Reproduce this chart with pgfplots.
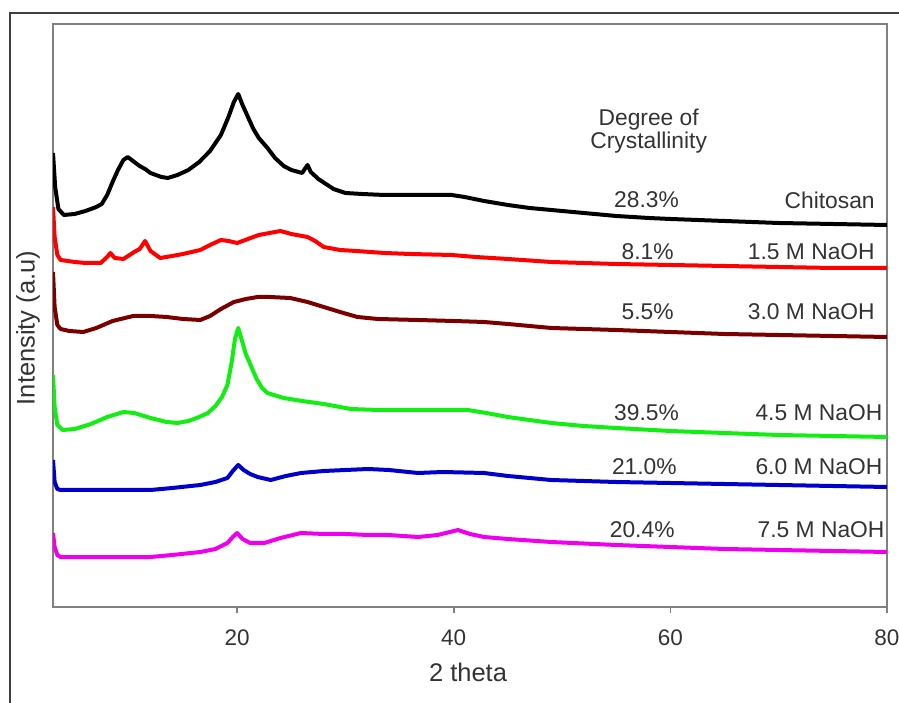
\documentclass[border=0pt]{standalone}
\usepackage{fontspec}
\setmainfont{Liberation Sans}
\usepackage{pgfplots}
\pgfplotsset{compat=1.18}
\definecolor{axgray}{HTML}{808080}
\definecolor{framegray}{HTML}{404040}
\definecolor{txt}{HTML}{333333}
\definecolor{cred}{HTML}{FF0000}
\definecolor{cdred}{HTML}{7A0000}
\definecolor{cgreen}{HTML}{11EE11}
\definecolor{cblue}{HTML}{0000CC}
\definecolor{cmag}{HTML}{EE00EE}
\begin{document}
\begin{tikzpicture}[x=1pt,y=1pt]
\useasboundingbox (0,0) rectangle (449.5,351);
\draw[framegray, line width=1pt] (5,-20) rectangle (470,344.5);
\begin{axis}[
  at={(26.5pt,47.5pt)}, anchor=south west,
  width=417pt, height=291.5pt, scale only axis,
  xmin=3, xmax=80, ymin=0, ymax=583,
  xtick={20,40,60,80}, ytick=\empty,
  xtick pos=bottom, tick align=outside, major tick length=3pt,
  axis line style={draw=axgray, line width=1pt},
  tick style={draw=axgray, line width=0.8pt},
  ticklabel style={font=\fontsize{11.25}{13}\selectfont, text=txt},
  xticklabel style={yshift=-5pt},
  /pgf/number format/assume math mode=true,
  every axis plot/.append style={line width=2pt, line join=round},
]
% Chitosan
\addplot[black] coordinates {(3,454) (3.2,420) (3.5,398) (4,392) (5,393) (6,396) (7,400) (7.5,403) (8,412) (8.5,425) (9,437) (9.5,447) (9.9,450) (10.5,445) (11,441) (11.5,438) (12,434) (13,430) (13.6,429) (14.5,432) (15.5,437) (16.5,445) (17.5,456) (18.5,472) (19.2,490) (19.7,505) (20.1,513) (20.5,502) (21,490) (21.5,478) (22,469) (22.8,459) (23.5,449) (24.3,441) (25,437) (26,434) (26.5,442) (26.8,435) (27.5,428) (28.9,418) (30,414) (31.5,413) (33.6,412) (36,412) (38,412) (39.8,412) (41,410) (42.8,406) (45,402) (47,399) (49,397) (52,394) (55,391) (58,389) (60,388) (65,386) (70,384) (75,383) (80,382)};
% 1.5 M
\addplot[cred] coordinates {(3,400) (3.15,370) (3.4,352) (3.7,347) (5,345) (6,344) (7.4,344) (8,350) (8.3,354) (8.7,349) (9.5,348) (10.5,355) (11,358) (11.5,366) (12,356) (12.9,349) (14,351) (15,353) (16.6,357) (17.5,362) (18.5,367) (19.2,366) (20,364) (21,368) (22,372) (23,374) (24,376) (25,373) (26.5,370) (27.2,366) (28,360) (29.5,357) (31,356) (33.6,354) (36,353) (39.8,352) (42,350) (45,348) (49,345) (52,344) (55,343) (60,342) (65,341) (70,340) (75,339) (80,339)};
% 3.0 M
\addplot[cdred] coordinates {(3,335) (3.15,300) (3.4,282) (3.7,278) (4.5,276) (5.8,275) (7,279) (8.5,286) (10.4,291) (12,291) (13.5,290) (15,288) (16.6,287) (17.5,291) (18.5,298) (19.7,305) (20.8,308) (21.9,310) (23,310) (24.9,309) (26.5,305) (28,300) (29.5,295) (31.1,290) (33,288) (36.7,287) (40,286) (42.8,285) (45,283) (49,279) (55,277) (60,275) (65,273) (70,272) (75,271) (80,270)};
% 4.5 M
\addplot[cgreen] coordinates {(3,232) (3.15,200) (3.4,182) (3.9,177) (5,178) (6.5,183) (8,190) (9.5,195) (10.5,194) (12,189) (13.5,185) (14.5,184) (15.5,186) (16.5,190) (17.3,194) (18,201) (18.6,210) (19.1,222) (19.5,245) (19.8,268) (20.1,279) (20.4,268) (20.8,253) (21.2,243) (21.8,228) (22.3,219) (22.8,214) (24.3,209) (26,206) (28,203) (30.5,198) (33,197) (36.7,197) (39,197) (41.3,197) (43,194) (45,190) (47,187) (49,184) (52,181) (55,179) (60,176) (65,174) (70,172) (75,171) (80,170)};
% 6.0 M
\addplot[cblue] coordinates {(3,147) (3.15,125) (3.4,118) (3.7,117) (6,117) (9,117) (12,117) (14,119) (16.6,122) (18,125) (19.1,129) (19.6,136) (20.1,142) (20.6,137) (21.2,133) (21.9,130) (23.1,127) (24.5,131) (25.9,134) (28,136) (30,137) (32.1,138) (34,137) (36.7,134) (39,135) (42.8,134) (45,131) (49,127) (55,125) (60,124) (65,123) (70,122) (75,121) (80,120)};
% 7.5 M
\addplot[cmag] coordinates {(3,74) (3.15,60) (3.4,52) (3.7,50) (6,50) (9,50) (12,50) (14,52) (16.6,55) (18,58) (19.1,64) (19.6,70) (20,74) (20.5,68) (21.2,64) (22.5,64) (24,69) (25.9,74) (28,73) (30,73) (32.1,72) (34,72) (36.7,70) (38.5,72) (40.4,77) (41.5,73) (42.8,70) (45,68) (49,65) (55,62) (60,60) (65,58) (70,57) (75,56) (80,55)};
\begin{scope}[every node/.style={font=\fontsize{11.4}{11.4}\selectfont, text=txt, inner sep=0pt}]
\node[align=center] at (axis cs:58,476) {Degree of\\Crystallinity};
\node at (axis cs:57.8,407) {28.3\%};
\node[anchor=east] at (axis cs:78.9,407) {Chitosan};
\node at (axis cs:57.9,355) {8.1\%};
\node[anchor=east] at (axis cs:78.9,355) {1.5 M NaOH};
\node at (axis cs:57.9,295) {5.5\%};
\node[anchor=east] at (axis cs:78.9,295) {3.0 M NaOH};
\node at (axis cs:57.8,194) {39.5\%};
\node[anchor=east] at (axis cs:79.6,194) {4.5 M NaOH};
\node at (axis cs:57.6,140) {21.0\%};
\node[anchor=east] at (axis cs:79.6,140) {6.0 M NaOH};
\node at (axis cs:57.4,77) {20.4\%};
\node[anchor=east] at (axis cs:79.8,77) {7.5 M NaOH};
\end{scope}
\end{axis}
\node[font=\fontsize{12.75}{13}\selectfont, text=txt] at (234,15) {2 theta};
\node[font=\fontsize{12.75}{13}\selectfont, text=txt, rotate=90] at (14,187) {Intensity (a.u)};
\end{tikzpicture}
\end{document}
